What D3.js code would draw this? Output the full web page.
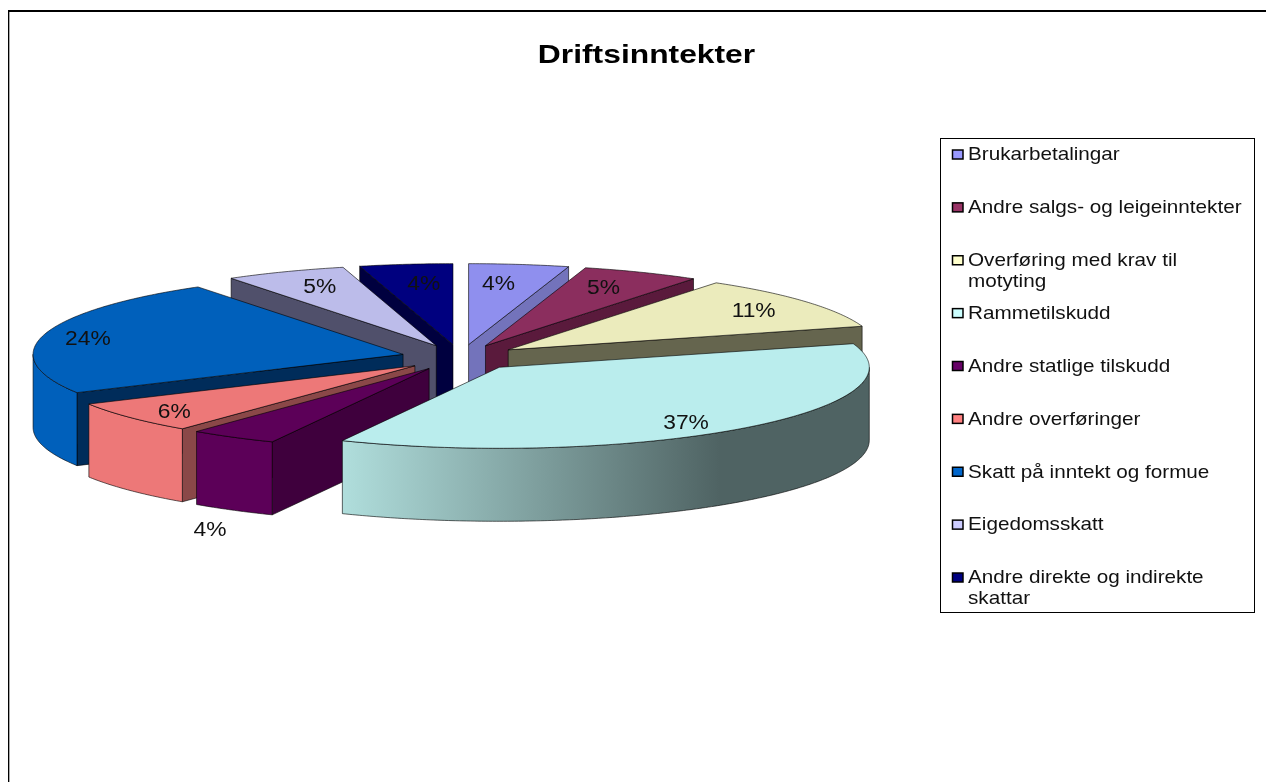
<!DOCTYPE html>
<html>
<head>
<meta charset="utf-8">
<title>Driftsinntekter</title>
<script src="https://cdn.jsdelivr.net/npm/d3@7"></script>
<style>
  html, body { margin: 0; padding: 0; background: #fff; }
  svg { display: block; }
  text { font-family: "Liberation Sans", Arial, sans-serif; fill: #111; }
  .soft { filter: blur(0.4px); }
</style>
</head>
<body>
<svg id="chart" width="1266" height="782"></svg>
<script>
const categories = ["Brukarbetalingar", "Andre salgs- og leigeinntekter", "Overføring med krav til motyting", "Rammetilskudd", "Andre statlige tilskudd", "Andre overføringer", "Skatt på inntekt og formue", "Eigedomsskatt", "Andre direkte og indirekte skattar"];
const legendLines = [["Brukarbetalingar"], ["Andre salgs- og leigeinntekter"], ["Overføring med krav til", "motyting"], ["Rammetilskudd"], ["Andre statlige tilskudd"], ["Andre overføringer"], ["Skatt på inntekt og formue"], ["Eigedomsskatt"], ["Andre direkte og indirekte", "skattar"]];
const shares = [4.36, 5.15, 10.8, 36.7, 3.85, 6.35, 23.5, 5.3, 4.06];
const pctLabels = ["4%", "5%", "11%", "37%", "4%", "6%", "24%", "5%", "4%"];

const legendColors = ["#9999ff", "#993366", "#ffffcc", "#ccffff", "#660066", "#ff8080", "#0066cc", "#ccccff", "#000080"];
const topColors = ["#8f8fee", "#8b2e5e", "#ebebbc", "#baeded", "#5c0058", "#ed7878", "#0060bb", "#bcbcea", "#00007f"];
const rimColors = ["#8f8fee", "#8b2e5e", "#ebebbc", "url(#rim-gradient)", "#5c0058", "#ed7878", "#0060bb", "#bcbcea", "#00007f"];
const wallColors = ["#7373bb", "#5a1a3c", "#65654e", "#50625f", "#3f003d", "#8a4848", "#002c5a", "#50506b", "#00003f"];

// painter's order, back slices first
const drawOrder = [8, 0, 1, 7, 2, 6, 5, 4, 3];
// label shift from the slice centroid
const labelNudge = [[-8, -1], [1, -4], [22, -4], [5, 9], [-72, 109], [-27, 7], [-46, -1], [-3, -4], [6, -1]];

const width = 1266, height = 782;
const cx = 460.5, cy = 357.5, rx = 370, ry = 81, depth = 73, explode = 0.16;
const textStretch = 1.17;

const svg = d3.select("#chart");
const sx = d3.scaleLinear().domain([-1, 1]).range([cx - rx, cx + rx]);
const sy = d3.scaleLinear().domain([-1, 1]).range([cy - ry, cy + ry]);

const pieData = d3.pie().sort(null).value(d => d)(shares);

// point on the top face of a slice, r = 1 is the rim
function project(d, angle, r) {
  const mid = (d.startAngle + d.endAngle) / 2;
  const ux = explode * Math.sin(mid) + r * Math.sin(angle);
  const uy = -explode * Math.cos(mid) - r * Math.cos(angle);
  return [sx(ux), sy(uy)];
}

function rimPoints(d, a0, a1) {
  const n = Math.max(2, Math.ceil((a1 - a0) / 0.01));
  return d3.range(n + 1).map(i => project(d, a0 + (a1 - a0) * i / n, 1));
}

const line = d3.line();
const closed = pts => line(pts) + "Z";
const dropped = pts => pts.map(p => [p[0], p[1] + depth]);

const defs = svg.append("defs");
const rimGradient = defs.append("linearGradient")
  .attr("id", "rim-gradient")
  .attr("gradientUnits", "userSpaceOnUse")
  .attr("x1", 343).attr("x2", 720).attr("y1", 0).attr("y2", 0);
rimGradient.append("stop").attr("offset", "0%").attr("stop-color", "#b0dedc");
rimGradient.append("stop").attr("offset", "100%").attr("stop-color", "#4f6363");

// page frame
svg.append("path")
  .attr("d", `M9.5,12V${height}`)
  .attr("fill", "none").attr("stroke", "#aaa").attr("stroke-width", 1);
svg.append("path")
  .attr("d", `M8.5,${height}V10`)
  .attr("fill", "none").attr("stroke", "#000").attr("stroke-width", 1);
svg.append("path")
  .attr("d", `M8,11H${width}`)
  .attr("fill", "none").attr("stroke", "#000").attr("stroke-width", 2);

const stretched = (sel, x, y, k = textStretch) => sel.attr("transform", `translate(${x},${y}) scale(${k},1)`);

stretched(svg.append("text"), 646.5, 63, 1.2)
  .attr("class", "soft")
  .attr("text-anchor", "middle")
  .attr("font-size", 26.5)
  .attr("font-weight", "bold")
  .style("fill", "#000")
  .text("Driftsinntekter");

const pieG = svg.append("g")
  .attr("class", "soft")
  .attr("stroke", "#000").attr("stroke-opacity", 0.75).attr("stroke-width", 0.8).attr("stroke-linejoin", "round");

drawOrder.forEach(i => {
  const d = pieData[i];
  const g = pieG.append("g").attr("class", "slice");
  const apex = project(d, 0, 0);

  // cut walls that face the viewer
  if (Math.sin(d.startAngle) < -1e-6) {
    const p = project(d, d.startAngle, 1);
    g.append("path").attr("fill", wallColors[i]).attr("d", closed([apex, p, ...dropped([p, apex])]));
  }
  if (Math.sin(d.endAngle) > 1e-6) {
    const p = project(d, d.endAngle, 1);
    g.append("path").attr("fill", wallColors[i]).attr("d", closed([apex, p, ...dropped([p, apex])]));
  }

  // outer rim, front half of the pie only
  const a0 = Math.max(d.startAngle, Math.PI / 2);
  const a1 = Math.min(d.endAngle, Math.PI * 1.5);
  if (a1 > a0) {
    const arc = rimPoints(d, a0, a1);
    g.append("path").attr("fill", rimColors[i]).attr("d", closed([...arc, ...dropped(arc).reverse()]));
  }

  g.append("path").attr("fill", topColors[i])
    .attr("d", closed([apex, ...rimPoints(d, d.startAngle, d.endAngle)]));
});

pieData.forEach((d, i) => {
  const mid = (d.startAngle + d.endAngle) / 2;
  const p = project(d, mid, 0.75);
  stretched(svg.append("text"), p[0] + labelNudge[i][0], p[1] + labelNudge[i][1])
    .attr("class", "soft")
    .attr("text-anchor", "middle")
    .attr("dy", "0.35em")
    .attr("font-size", 19.5)
    .text(pctLabels[i]);
});

// Legend
svg.append("rect")
  .attr("x", 940.5).attr("y", 138.5).attr("width", 314).attr("height", 474)
  .attr("fill", "#fff").attr("stroke", "#000").attr("stroke-width", 1);

const legendY = d3.scalePoint().domain(categories).range([154, 577]);
const legend = svg.selectAll(".legend-item")
  .data(categories)
  .enter()
  .append("g")
  .attr("class", "legend-item soft")
  .attr("transform", d => `translate(952,${legendY(d)})`);

legend.append("rect")
  .attr("x", 0.5).attr("y", -4).attr("width", 10.5).attr("height", 9)
  .attr("fill", (d, i) => legendColors[i])
  .attr("stroke", "#000").attr("stroke-width", 1.5);

legend.each(function(d, i) {
  const t = d3.select(this).append("text")
    .attr("transform", "translate(16,0) scale(1.15,1)")
    .attr("font-size", 18);
  legendLines[i].forEach((s, k) => {
    t.append("tspan").attr("x", 0).attr("y", k * 21).attr("dy", "0.35em").text(s);
  });
});
</script>
</body>
</html>
